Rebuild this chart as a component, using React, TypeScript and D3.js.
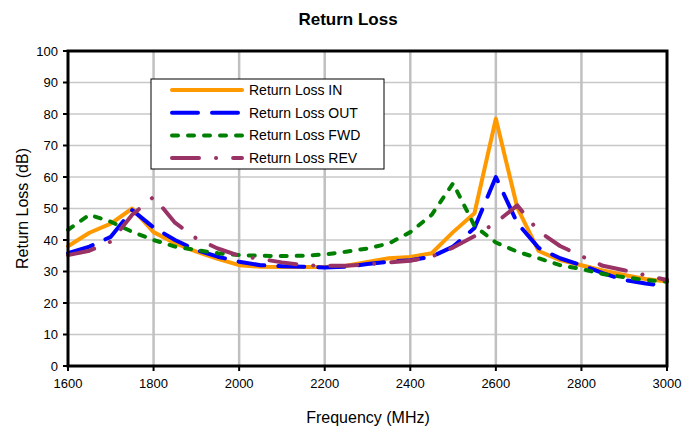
import * as d3 from 'd3';

const WIDTH = 697;
const HEIGHT = 432;
const MARGIN = { top: 51, right: 30, bottom: 66, left: 68 };

// frequency points (MHz)
const freqs = [
  1600, 1650, 1700, 1750, 1800, 1850, 1900, 1950, 2000, 2050, 2100, 2150, 2200, 2250, 2300,
  2350, 2400, 2450, 2500, 2550, 2600, 2650, 2700, 2750, 2800, 2850, 2900, 2950, 3000,
];

const lossIn = [
  38, 42.3, 45.2, 50, 42.5, 39, 36.3, 34, 32, 31.5, 31.4, 31.4, 31.4, 31.8, 33,
  34.2, 34.6, 35.8, 42.5, 48.5, 78.5, 50.3, 36.5, 33.6, 32, 30.3, 28.9, 27.6, 26.8,
];
const lossOut = [
  35.8, 37.9, 41, 49.5, 44, 40, 36.8, 34.7, 33.1, 32, 31.7, 31.5, 31.3, 31.5, 32.4,
  33.1, 33.6, 34.7, 37.9, 43.8, 60, 45.4, 37.5, 34.2, 32, 29.5, 27.3, 26.2, 25.4,
];
const lossFwd = [
  43.2, 48, 45.8, 42.6, 40, 37.9, 36.8, 35.8, 35.2, 35, 34.9, 35, 35.4, 36.3, 37.3,
  38.9, 42.5, 48, 58, 44.5, 39.2, 36.3, 34.2, 32, 30.8, 29.2, 28.2, 27.3, 26.8,
];
const lossRev = [
  35.2, 36.6, 39.5, 48, 53.7, 45.5, 40.5, 37.3, 35, 34, 32.9, 32, 31.8, 31.8, 32.3,
  32.9, 33.4, 34.7, 37.6, 41.2, 45.5, 51, 42.8, 38.1, 34.9, 31.8, 30.4, 28.8, 27.3,
];

const xTicks = [1600, 1800, 2000, 2200, 2400, 2600, 2800, 3000];
const yTicks = [0, 10, 20, 30, 40, 50, 60, 70, 80, 90, 100];

const series = [
  { name: 'Return Loss IN', values: lossIn, color: '#FF9900', dash: 'none' },
  { name: 'Return Loss OUT', values: lossOut, color: '#0000FF', dash: '26 14' },
  { name: 'Return Loss FWD', values: lossFwd, color: '#008000', dash: '6 10' },
  { name: 'Return Loss REV', values: lossRev, color: '#993366', dash: '27 17 0.1 17' },
];

const FONT = 'Arial, "Liberation Sans", sans-serif';

export default function App() {
  const innerW = WIDTH - MARGIN.left - MARGIN.right;
  const innerH = HEIGHT - MARGIN.top - MARGIN.bottom;

  const x = d3.scaleLinear().domain([1600, 3000]).range([0, innerW]);
  const y = d3.scaleLinear().domain([0, 100]).range([innerH, 0]);

  const line = d3
    .line<number>()
    .x((_, i) => x(freqs[i]))
    .y((d) => y(d));

  return (
    <svg
      width={WIDTH}
      height={HEIGHT}
      style={{ position: 'fixed', left: 0, top: 0, background: '#fff' }}
      fontFamily={FONT}
    >
      <text x={348} y={25} textAnchor="middle" fontSize={17} fontWeight="bold">
        Return Loss
      </text>
      <g transform={`translate(${MARGIN.left},${MARGIN.top})`}>
        {/* horizontal grid */}
        {yTicks.map((t) => (
          <line key={'h' + t} x1={0} x2={innerW} y1={y(t)} y2={y(t)} stroke="#C8C8C8" strokeWidth={1.5} />
        ))}
        {/* vertical grid */}
        {xTicks.slice(1, -1).map((t) => (
          <line key={'v' + t} x1={x(t)} x2={x(t)} y1={0} y2={innerH} stroke="#C0C0C0" strokeWidth={2.5} />
        ))}

        {series.map((s) => (
          <path
            key={s.name}
            d={line(s.values) ?? ''}
            fill="none"
            stroke={s.color}
            strokeWidth={4}
            strokeDasharray={s.dash}
            strokeLinecap="round"
            strokeLinejoin="round"
          />
        ))}

        {/* frame */}
        <rect x={0} y={0} width={innerW} height={innerH} fill="none" stroke="#000" strokeWidth={3} />

        {/* ticks + labels */}
        {yTicks.map((t) => (
          <g key={'yt' + t}>
            <line x1={-5} x2={0} y1={y(t)} y2={y(t)} stroke="#000" strokeWidth={2} />
            <text x={-10} y={y(t)} dy="0.35em" textAnchor="end" fontSize={13}>
              {t}
            </text>
          </g>
        ))}
        {xTicks.map((t) => (
          <g key={'xt' + t}>
            <line x1={x(t)} x2={x(t)} y1={innerH} y2={innerH + 5} stroke="#000" strokeWidth={2} />
            <text x={x(t)} y={innerH + 22} textAnchor="middle" fontSize={13}>
              {t}
            </text>
          </g>
        ))}

        {/* legend */}
        <g transform="translate(83,28)">
          <rect x={0} y={0} width={233} height={90} fill="#fff" stroke="#000" strokeWidth={1} />
          {series.map((s, i) => (
            <g key={'lg' + s.name} transform={`translate(0,${11 + i * 22.7})`}>
              <line
                x1={21}
                x2={91}
                y1={0}
                y2={0}
                stroke={s.color}
                strokeWidth={4}
                strokeDasharray={s.dash}
                strokeLinecap="round"
              />
              <text x={98} y={0} dy="0.35em" fontSize={14}>
                {s.name}
              </text>
            </g>
          ))}
        </g>
      </g>

      <text
        transform={`translate(28,${MARGIN.top + innerH / 2}) rotate(-90)`}
        textAnchor="middle"
        fontSize={16}
      >
        Return Loss (dB)
      </text>
      <text x={368} y={423} textAnchor="middle" fontSize={16}>
        Frequency (MHz)
      </text>
    </svg>
  );
}
